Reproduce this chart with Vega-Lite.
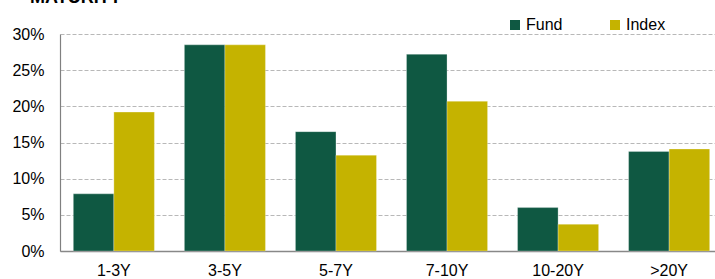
{
  "$schema": "https://vega.github.io/schema/vega-lite/v6.json",
  "width": 655,
  "height": 217,
  "autosize": "none",
  "padding": {"left": 60, "top": 34, "right": 0, "bottom": 28},
  "background": "white",
  "title": {"text": "MATURITY", "anchor": "start", "font": "Liberation Sans", "fontSize": 18, "fontWeight": "bold", "color": "#000000", "baseline": "alphabetic", "offset": 0, "dx": 18, "dy": 4},
  "data": {"values": [
    {"maturity": "1-3Y", "series": "Fund", "value": 7.9},
    {"maturity": "1-3Y", "series": "Index", "value": 19.2},
    {"maturity": "3-5Y", "series": "Fund", "value": 28.5},
    {"maturity": "3-5Y", "series": "Index", "value": 28.5},
    {"maturity": "5-7Y", "series": "Fund", "value": 16.5},
    {"maturity": "5-7Y", "series": "Index", "value": 13.25},
    {"maturity": "7-10Y", "series": "Fund", "value": 27.2},
    {"maturity": "7-10Y", "series": "Index", "value": 20.7},
    {"maturity": "10-20Y", "series": "Fund", "value": 6.0},
    {"maturity": "10-20Y", "series": "Index", "value": 3.7},
    {"maturity": ">20Y", "series": "Fund", "value": 13.75},
    {"maturity": ">20Y", "series": "Index", "value": 14.1}
  ]},
  "mark": {"type": "bar", "stroke": "#ffffff", "strokeOpacity": 0.35, "strokeWidth": 0.8},
  "encoding": {
    "x": {
      "field": "maturity", "type": "nominal",
      "sort": ["1-3Y", "3-5Y", "5-7Y", "7-10Y", "10-20Y", ">20Y"],
      "scale": {"range": [0, 663], "paddingInner": 0.27, "paddingOuter": 0.12},
      "axis": {"title": null, "labelAngle": 0, "ticks": false, "labelPadding": 11, "labelFont": "Liberation Sans", "labelFontSize": 16, "labelColor": "#000000", "domainColor": "#888888", "domainWidth": 1.5, "grid": false}
    },
    "xOffset": {"field": "series", "sort": ["Fund", "Index"], "scale": {"paddingInner": 0, "paddingOuter": 0}},
    "y": {
      "field": "value", "type": "quantitative",
      "scale": {"domain": [0, 30], "nice": false},
      "axis": {"title": null, "values": [0, 5, 10, 15, 20, 25, 30], "labelExpr": "datum.value + '%'", "grid": true, "gridDash": [4, 2], "gridColor": "#b8b8b8", "gridWidth": 1, "domainColor": "#808080", "domainWidth": 1.2, "ticks": false, "labelPadding": 16, "labelFont": "Liberation Sans", "labelFontSize": 16, "labelColor": "#000000"}
    },
    "color": {
      "field": "series", "type": "nominal",
      "scale": {"domain": ["Fund", "Index"], "range": ["#0F5842", "#C5B300"]},
      "legend": {"title": null, "orient": "none", "legendX": 447, "legendY": -17, "direction": "horizontal", "symbolType": "square", "symbolSize": 100, "symbolStrokeWidth": 0, "symbolOpacity": 1, "labelFont": "Liberation Sans", "labelFontSize": 16, "labelColor": "#000000", "labelOffset": 3, "columnPadding": 44, "padding": 0}
    }
  },
  "config": {"view": {"stroke": null}}
}
